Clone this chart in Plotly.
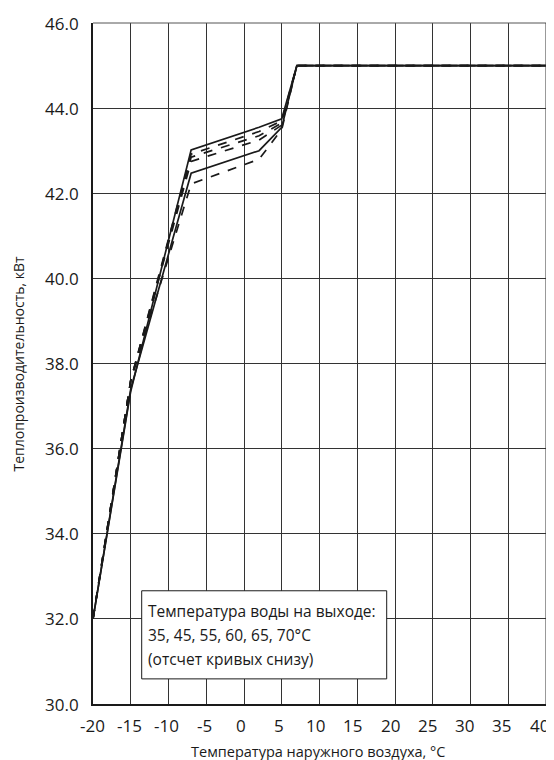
import plotly.graph_objects as go

outdoor_temp = [-20, -15, -7, 2, 5, 7, 40]
water_temps = ["35", "45", "55", "60", "65", "70"]
capacity_35 = [32.0, 37.6, 42.22, 42.80, 43.50, 45.0, 45.0]
capacity_45 = [32.0, 37.4, 42.47, 43.00, 43.55, 45.0, 45.0]
capacity_55 = [32.0, 37.6, 42.75, 43.25, 43.60, 45.0, 45.0]
capacity_60 = [32.0, 37.6, 42.85, 43.35, 43.65, 45.0, 45.0]
capacity_65 = [32.0, 37.6, 42.92, 43.45, 43.70, 45.0, 45.0]
capacity_70 = [32.0, 37.35, 43.02, 43.55, 43.75, 45.0, 45.0]
series = [capacity_35, capacity_45, capacity_55, capacity_60, capacity_65, capacity_70]
dashes = ["dash", "solid", "dash", "dash", "dash", "solid"]

x_ticks = [-20, -15, -10, -5, 0, 5, 10, 15, 20, 25, 30, 35, 40]
y_ticks = [30, 32, 34, 36, 38, 40, 42, 44, 46]
note_lines = ["Температура воды на выходе:", "35, 45, 55, 60, 65, 70°C", "(отсчет кривых снизу)"]

FONT = "Open Sans"
# the page body adds an 8px offset; figure coordinates below are page coords minus 8
W, H = 546, 752
L, R, T, B = 85, 8, 15, 56
PW = W - L - R
PH = H - T - B

fig = go.Figure()
for name, vals, d in zip(water_temps, series, dashes):
    fig.add_trace(go.Scatter(x=outdoor_temp, y=vals, mode="lines", name=name,
                             line=dict(color="#1a1a1a", width=1.7, dash=d)))

fig.update_layout(
    width=W, height=H,
    margin=dict(l=L, r=R, t=T, b=B),
    paper_bgcolor="white", plot_bgcolor="white",
    showlegend=False,
    font=dict(family=FONT, color="#1a1a1a"),
    xaxis=dict(range=[-20, 40], tickvals=x_ticks, showticklabels=False,
               showgrid=True, gridcolor="#333333", gridwidth=1, zeroline=False,
               showline=True, linecolor="#1a1a1a", linewidth=2, automargin=False, ticks=""),
    yaxis=dict(range=[30, 46], tickvals=y_ticks, showticklabels=False,
               showgrid=True, gridcolor="#333333", gridwidth=1, zeroline=False,
               showline=True, linecolor="#1a1a1a", linewidth=2, automargin=False, ticks=""),
)
# top and right borders
fig.add_shape(type="line", xref="paper", yref="paper", x0=0, x1=1, y0=1, y1=1,
              line=dict(color="#555555", width=1))
fig.add_shape(type="line", xref="paper", yref="paper", x0=1, x1=1, y0=0, y1=1,
              line=dict(color="#333333", width=1))

# x tick labels (slightly compressed spacing as in the reference)
x0_pix, x_step = 84.5, (531.0 - 84.5) / (len(x_ticks) - 1)
for i, v in enumerate(x_ticks):
    fig.add_annotation(xref="paper", yref="paper", x=(x0_pix + i * x_step - L) / PW,
                       y=-(717 - (H - B)) / PH, text=str(v), showarrow=False,
                       xanchor="center", yanchor="middle", font=dict(size=17, family=FONT))
# y tick labels
for v in y_ticks:
    fig.add_annotation(xref="paper", yref="y", x=-(L - 73) / PW, y=v,
                       text=f"{v:.1f}", showarrow=False, xanchor="right", yanchor="middle",
                       font=dict(size=17, family=FONT))

# axis titles
fig.add_annotation(xref="paper", yref="paper", x=(310 - L) / PW, y=-(743 - (H - B)) / PH,
                   text="Температура наружного воздуха, °C", showarrow=False,
                   xanchor="center", yanchor="middle", font=dict(size=14.5, family=FONT))
fig.add_annotation(xref="paper", yref="paper", x=-(L - 10) / PW, y=0.5,
                   text="Теплопроизводительность, кВт", showarrow=False, textangle=-90,
                   xanchor="center", yanchor="middle", font=dict(size=14, family=FONT))

# note box
fig.add_shape(type="rect", xref="x", yref="y", x0=-13.55, x1=18.9, y0=30.59, y1=32.66,
              line=dict(color="#1a1a1a", width=1), fillcolor="white", layer="above")
for i, txt in enumerate(note_lines):
    ypix = 603 + 24 * i
    fig.add_annotation(xref="x", yref="paper", x=-13.0,
                       y=(H - B - ypix) / PH,
                       text=txt, showarrow=False, xanchor="left", yanchor="middle",
                       font=dict(size=15.5, family=FONT, color="#1a1a1a"))

fig.write_html("out.html")
